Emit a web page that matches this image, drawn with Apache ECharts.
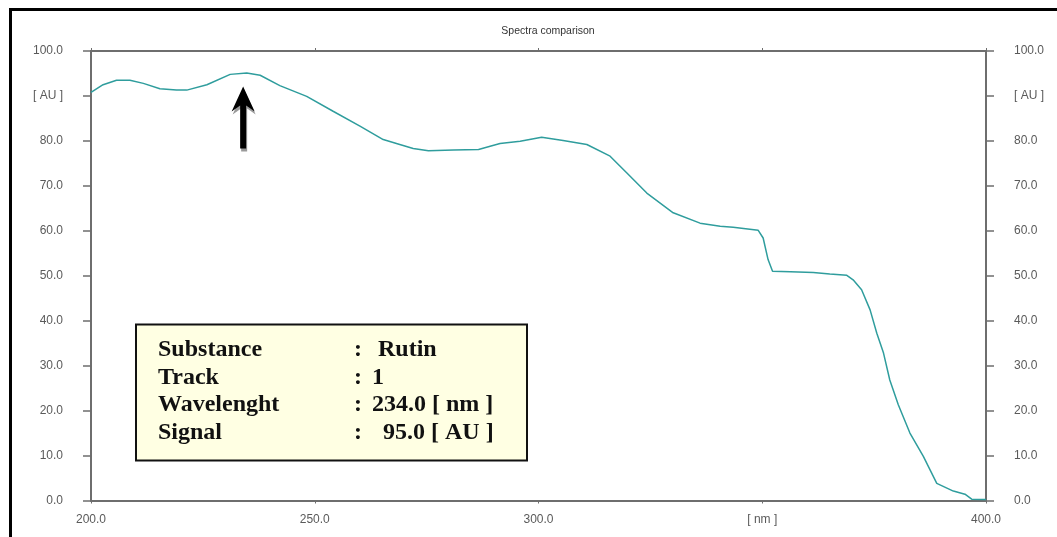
<!DOCTYPE html>
<html>
<head>
<meta charset="utf-8">
<script src="https://cdn.jsdelivr.net/npm/echarts@6/dist/echarts.min.js"></script>
<style>
html,body{margin:0;padding:0;background:#fff;}
#chart{width:1057px;height:537px;}
</style>
</head>
<body>
<div id="chart"></div>
<script>
// ---- data ----
const wavelength = [200.0,202.7,205.7,208.7,211.7,215.4,219.1,221.4,225.9,231.1,234.8,237.8,242.2,248.2,254.1,260.1,265.3,269.0,272.0,275.4,281.0,286.6,291.4,295.9,300.7,305.5,310.8,316.0,319.7,324.2,330.1,336.1,340.6,343.5,349.1,350.2,351.3,352.3,356.3,361.4,365.1,368.9,370.3,372.2,374.1,375.6,377.1,378.5,380.4,383.0,386.0,389.0,392.7,395.3,396.8,400.0];
const signal = [90.8,92.5,93.5,93.5,92.8,91.6,91.3,91.3,92.5,94.8,95.1,94.6,92.3,89.9,86.6,83.3,80.3,79.2,78.3,77.8,78.0,78.1,79.4,79.9,80.8,80.1,79.2,76.6,72.9,68.4,64.0,61.7,61.0,60.8,60.1,58.4,53.6,51.0,50.9,50.7,50.4,50.1,49.1,46.9,42.4,37.2,32.8,26.8,21.3,15.0,9.8,3.8,2.1,1.4,0.3,0.2];
const xTicks = [200, 250, 300, 350, 400];
const xUnitTick = 350;          // tick whose label is the unit
const yUnitTick = 90;           // tick whose label is the unit
const xUnit = '[ nm ]';
const yUnit = '[ AU ]';
const titleText = 'Spectra comparison';
const infoLabels = ['Substance', 'Track', 'Wavelenght', 'Signal'];
const infoValues = ['Rutin', '1', '234.0 [ nm ]', '95.0 [ AU ]'];
const peakWavelength = 234.0;
const peakSignal = 95.0;

const chart = echarts.init(document.getElementById('chart'));
const axisGray = '#6e6e6e';
const labelGray = '#5a5a5a';
const curve = wavelength.map((w, i) => [w, signal[i]]);

const xFmt = v => (v === xUnitTick ? xUnit : v.toFixed(1));
const yFmt = v => (v === yUnitTick ? yUnit : v.toFixed(1));

const baseX = {
  type: 'value', min: xTicks[0], max: xTicks[xTicks.length - 1], interval: 50,
  axisLine: { show: true, onZero: false, lineStyle: { color: axisGray, width: 2 } },
  axisTick: { show: true, length: 3, lineStyle: { color: axisGray, width: 1 } },
  splitLine: { show: false }
};
const baseY = {
  type: 'value', min: 0, max: 100, interval: 10,
  axisLine: { show: true, onZero: false, lineStyle: { color: axisGray, width: 2 } },
  axisTick: { show: true, length: 8, lineStyle: { color: axisGray, width: 1.5 } },
  splitLine: { show: false },
  axisLabel: { formatter: yFmt, color: labelGray, fontSize: 12, fontFamily: 'Liberation Sans, Arial, sans-serif', margin: 28 }
};

chart.setOption({
  animation: false,
  backgroundColor: '#fff',
  title: {
    text: titleText, left: 543, top: 21, textAlign: 'center',
    textStyle: { fontSize: 10.5, fontWeight: 'normal', color: '#333', fontFamily: 'Liberation Sans, Arial, sans-serif' }
  },
  grid: { left: 91, right: 71, top: 51, bottom: 36.5 },
  xAxis: [
    Object.assign({}, baseX, {
      position: 'bottom',
      axisLabel: { formatter: xFmt, color: labelGray, fontSize: 12, fontFamily: 'Liberation Sans, Arial, sans-serif', margin: 13 }
    }),
    Object.assign({}, baseX, { position: 'top', axisLabel: { show: false } })
  ],
  yAxis: [
    Object.assign({}, baseY, { position: 'left' }),
    Object.assign({}, baseY, { position: 'right' })
  ],
  series: [{
    type: 'line', xAxisIndex: 0, yAxisIndex: 0,
    data: curve, showSymbol: false, smooth: false,
    lineStyle: { color: '#2f9d9d', width: 1.5 }
  }]
});

// annotations positioned through the chart's scales
const peakPx = chart.convertToPixel({ xAxisIndex: 0, yAxisIndex: 0 }, [peakWavelength, peakSignal]);
const tipX = peakPx[0], tipY = peakPx[1] + 13;
const lineH = 27.5;
const boxElems = [{
  type: 'rect', shape: { x: 136, y: 324.5, width: 391, height: 136 },
  style: { fill: '#ffffe3', stroke: '#111', lineWidth: 2 }, z: 10
}];
infoLabels.forEach((lab, i) => {
  const yy = 350 + i * lineH;
  const common = { fill: '#111', font: 'bold 24px "Liberation Serif", "Times New Roman", serif', verticalAlign: 'middle' };
  boxElems.push({ type: 'text', x: 158, y: yy, style: Object.assign({ text: lab }, common), z: 11 });
  boxElems.push({ type: 'text', x: 354, y: yy, style: Object.assign({ text: ':' }, common), z: 11 });
  const vx = [378, 372, 372, 383][i];
  boxElems.push({ type: 'text', x: vx, y: yy, style: Object.assign({ text: infoValues[i] }, common), z: 11 });
});

chart.setOption({
  graphic: [
    {
      type: 'rect', shape: { x: 10.5, y: 9.5, width: 1200, height: 700 },
      style: { fill: 'none', stroke: '#000', lineWidth: 3 }, silent: true
    },
    {
      type: 'polygon', z: 20,
      shape: { points: [
        [tipX, tipY], [tipX + 11.5, tipY + 25], [tipX + 3, tipY + 19],
        [tipX + 3, tipY + 62], [tipX - 3, tipY + 62], [tipX - 3, tipY + 19],
        [tipX - 11.5, tipY + 25]
      ] },
      style: { fill: '#000', shadowColor: '#9a9a9a', shadowOffsetX: 1, shadowOffsetY: 3, shadowBlur: 0 }
    }
  ].concat(boxElems)
});
</script>
</body>
</html>
